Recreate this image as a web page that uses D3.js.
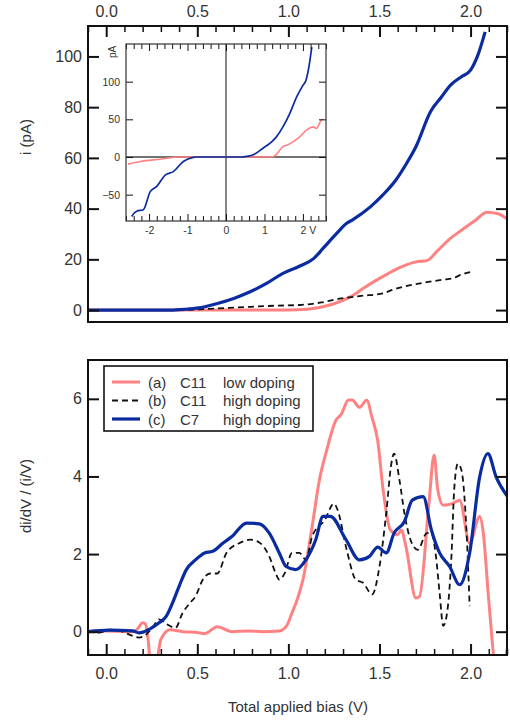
<!DOCTYPE html>
<html>
<head>
<meta charset="utf-8">
<script src="https://cdn.jsdelivr.net/npm/d3@7"></script>
<style>
body { margin: 0; background: #fff; }
svg text { font-family: Arial, "Liberation Sans", sans-serif; fill: #333; }
</style>
</head>
<body>
<svg id="chart" width="510" height="720"></svg>
<script>
// ---- data ----
// top panel: current vs bias
var ivBiasA = [-0.1, 1.0, 1.1, 1.17, 1.25, 1.34, 1.42, 1.5, 1.55, 1.62, 1.7, 1.76, 1.82, 1.88, 1.95, 2.03, 2.09, 2.15, 2.2];
var ivCurA  = [0, 0, 0.3, 1, 2.5, 5.2, 9, 12.5, 14.5, 17, 19, 19.5, 23.5, 27.7, 31.5, 35.6, 38.6, 38, 36];
var ivBiasB = [-0.1, 0.35, 0.51, 0.65, 0.79, 0.92, 1.06, 1.18, 1.29, 1.4, 1.52, 1.57, 1.65, 1.76, 1.85, 1.9, 1.95, 2.0];
var ivCurB  = [0, 0, 0.3, 0.8, 1.3, 1.7, 2, 3, 4.6, 5.6, 6.6, 8, 9.5, 11, 12, 12.5, 14, 15];
var ivBiasC = [-0.1, 0.35, 0.43, 0.51, 0.61, 0.7, 0.79, 0.88, 0.97, 1.06, 1.14, 1.19, 1.265, 1.32, 1.35, 1.45, 1.52, 1.59, 1.65, 1.7, 1.78, 1.84, 1.89, 1.95, 2.0, 2.04, 2.08];
var ivCurC  = [0, 0, 0.3, 0.9, 2.6, 4.6, 7.2, 10.5, 14.5, 17.3, 20.4, 24.3, 30.2, 34.2, 35.5, 40.7, 45.5, 51.3, 58, 64.4, 78.2, 84, 88.7, 92, 94.6, 100.5, 109.7];

// inset: full I-V sweep
var insetBiasA = [-2.55, -2.23, -1.71, -1.2, 1.2, 1.3, 1.48, 1.6, 1.74, 1.9, 2.1, 2.27, 2.35, 2.48, 2.52];
var insetCurA  = [-9.5, -6, -3, 0, 0, 3, 13.7, 16, 20, 26, 36, 40, 38, 49, 50];
var insetBiasC = [-2.45, -2.4, -2.32, -2.15, -1.97, -1.8, -1.58, -1.37, -1.11, -0.85, -0.78, 0.4, 0.55, 0.71, 0.97, 1.14, 1.3, 1.48, 1.66, 1.84, 2.0, 2.08, 2.15, 2.23];
var insetCurC  = [-79, -75, -72, -70, -46, -39, -24, -19.5, -6, -0.5, 0, 0, 1, 3, 12, 18, 26, 40, 58, 80, 95, 102, 118, 146];

// bottom panel: normalised conductance
var ndrBiasA = [-0.1, 0.0, 0.1, 0.15, 0.17, 0.2, 0.215, 0.23, 0.245, 0.27, 0.3, 0.35, 0.42, 0.5, 0.54, 0.61, 0.69, 0.78, 0.86, 0.95, 0.99, 1.02, 1.05, 1.08, 1.13, 1.17, 1.21, 1.26, 1.29, 1.33, 1.35, 1.39, 1.43, 1.46, 1.49, 1.52, 1.56, 1.6, 1.62, 1.645, 1.7, 1.72, 1.77, 1.8, 1.82, 1.85, 1.9, 1.94, 1.995, 2.05, 2.07, 2.1, 2.14, 2.18, 2.2];
var ndrValA  = [0, 0.02, 0, 0, 0.06, 0.23, 0.2, -0.2, -0.9, -0.9, -0.2, 0.05, 0, -0.02, -0.05, 0.13, 0, 0.02, 0, 0.02, 0.15, 0.49, 0.85, 1.34, 2.7, 3.9, 4.67, 5.44, 5.6, 5.97, 5.97, 5.78, 5.96, 5.5, 4.93, 3.65, 2.62, 2.5, 2.62, 2.2, 0.87, 0.91, 3.22, 4.55, 3.65, 3.26, 3.3, 3.39, 2.28, 2.97, 2.54, 0.8, -0.9, -0.9, -0.45];
var ndrBiasB = [-0.1, -0.04, 0.02, 0.09, 0.145, 0.18, 0.22, 0.26, 0.29, 0.33, 0.38, 0.42, 0.46, 0.49, 0.53, 0.57, 0.61, 0.66, 0.73, 0.79, 0.84, 0.895, 0.93, 0.95, 0.98, 1.02, 1.06, 1.096, 1.13, 1.2, 1.25, 1.27, 1.32, 1.37, 1.41, 1.46, 1.5, 1.537, 1.565, 1.58, 1.61, 1.637, 1.67, 1.71, 1.76, 1.785, 1.81, 1.83, 1.85, 1.865, 1.895, 1.91, 1.93, 1.95, 1.98, 1.995];
var ndrValB  = [0, -0.02, 0.05, 0, -0.11, -0.15, -0.07, 0.15, 0.32, 0.2, 0.1, 0.49, 0.74, 0.91, 1.34, 1.5, 1.5, 2.03, 2.28, 2.37, 2.3, 1.94, 1.51, 1.34, 1.51, 2.03, 2.03, 1.85, 2.45, 2.88, 3.3, 3.14, 2.11, 1.34, 1.26, 0.96, 1.68, 3.05, 4.33, 4.59, 3.9, 3.05, 2.37, 2.11, 2.54, 2.54, 1.94, 1.0, 0.15, 0.32, 1.94, 3.65, 4.33, 4.16, 2.37, 0.66];
var ndrBiasC = [-0.1, 0.016, 0.145, 0.18, 0.236, 0.29, 0.33, 0.364, 0.4, 0.44, 0.49, 0.54, 0.584, 0.64, 0.69, 0.77, 0.84, 0.895, 0.95, 0.987, 1.04, 1.096, 1.15, 1.19, 1.23, 1.316, 1.39, 1.445, 1.49, 1.537, 1.58, 1.637, 1.68, 1.74, 1.785, 1.83, 1.885, 1.94, 1.995, 2.05, 2.095, 2.14, 2.2];
var ndrValC  = [0, 0.04, 0.02, -0.03, 0.06, 0.23, 0.4, 0.74, 1.17, 1.6, 1.85, 2.03, 2.07, 2.28, 2.45, 2.8, 2.78, 2.54, 2.03, 1.68, 1.6, 1.85, 2.37, 2.97, 2.97, 2.37, 1.85, 1.94, 2.18, 2.03, 2.54, 2.84, 3.39, 3.48, 2.62, 2.03, 1.68, 1.21, 2.03, 3.99, 4.59, 3.99, 3.5];

// ticks and labels
var biasTicks = [0, 0.5, 1.0, 1.5, 2.0];
var currentTicks = [0, 20, 40, 60, 80, 100];
var ndrTicks = [0, 2, 4, 6];
var insetBiasTicks = [-2, -1, 0, 1, 2];
var insetCurTicks = [-50, 0, 50, 100];
var legendKeys = ["(a)", "(b)", "(c)"];
var legendSamples = ["C11", "C11", "C7"];
var legendDoping = ["low doping", "high doping", "high doping"];

var RED = "#ff8282", BLUE = "#0b2ca0", BLACK = "#111";

var svg = d3.select("#chart");
svg.append("rect").attr("width", 510).attr("height", 720).attr("fill", "#fff");

// scales
var xMain = d3.scaleLinear().domain([-0.1, 2.2]).range([88, 507]);
var yTop = d3.scaleLinear().domain([-4.7, 112]).range([322, 26]);
var yBot = d3.scaleLinear().domain([-0.6, 7]).range([655, 360]);
var xIn = d3.scaleLinear().domain([-2.6, 2.6]).range([126, 326]);
var yIn = d3.scaleLinear().domain([-85, 150]).range([221, 44]);

function zipPts(xs, ys) {
    return xs.map(function(x, i) { return [x, ys[i]]; });
}
function minorsOf(lo, hi, step, majors) {
    return d3.range(Math.round(lo / step), Math.round(hi / step) + 1)
      .map(function(k) { return +(k * step).toFixed(3); })
      .filter(function(v) { return majors.indexOf(v) < 0; });
}
function clipRect(id, x0, y0, x1, y1) {
    svg.append("clipPath").attr("id", id).append("rect")
      .attr("x", x0).attr("y", y0).attr("width", x1 - x0).attr("height", y1 - y0);
}
function drawAxis(axis, tx, ty, fontSize, width) {
    let g = svg.append("g").attr("transform", "translate(" + tx + "," + ty + ")").call(axis);
    g.select(".domain").remove();
    g.selectAll("line").attr("stroke", "#111").attr("stroke-width", width);
    g.selectAll("text").attr("font-size", fontSize).attr("fill", "#383838");
    return g;
}
function drawLine(g, pts, xs, ys, color, width, dash) {
    let line = d3.line().x(function(d) { return xs(d[0]); }).y(function(d) { return ys(d[1]); })
      .curve(d3.curveMonotoneX);
    g.append("path").datum(pts)
      .attr("d", line)
      .attr("fill", "none")
      .attr("stroke", color)
      .attr("stroke-width", width)
      .attr("stroke-dasharray", dash || null)
      .attr("stroke-linejoin", "round");
}

// ---- top panel ----
clipRect("clipTop", 88, 26, 507, 322);
var topG = svg.append("g").attr("clip-path", "url(#clipTop)");
drawLine(topG, zipPts(ivBiasA, ivCurA), xMain, yTop, RED, 3);
drawLine(topG, zipPts(ivBiasB, ivCurB), xMain, yTop, BLACK, 1.8, "6,4");
drawLine(topG, zipPts(ivBiasC, ivCurC), xMain, yTop, BLUE, 3.2);

drawAxis(d3.axisTop(xMain).tickValues(biasTicks).tickSize(-11).tickPadding(9).tickFormat(d3.format(".1f")), 0, 26, 16, 2);
drawAxis(d3.axisTop(xMain).tickValues(minorsOf(-0.1, 2.2, 0.1, biasTicks)).tickSize(-6).tickFormat(""), 0, 26, 16, 1.5);
drawAxis(d3.axisLeft(yTop).tickValues(currentTicks).tickSize(-11).tickPadding(6), 88, 0, 16, 2);
drawAxis(d3.axisRight(yTop).tickValues(currentTicks).tickSize(-11).tickFormat(""), 507, 0, 16, 2);
svg.append("rect").attr("x", 88).attr("y", 26).attr("width", 419).attr("height", 296)
  .attr("fill", "none").attr("stroke", "#111").attr("stroke-width", 2);

svg.append("text").attr("transform", "translate(31,137) rotate(-90)")
  .attr("text-anchor", "middle").attr("font-size", 15).text("i (pA)");

// inset
svg.append("rect").attr("x", 126).attr("y", 44).attr("width", 200).attr("height", 177).attr("fill", "#fff");
clipRect("clipIn", 126, 44, 326, 221);
var inG = svg.append("g").attr("clip-path", "url(#clipIn)");
inG.append("line").attr("x1", xIn(-2.6)).attr("x2", xIn(2.6)).attr("y1", yIn(0)).attr("y2", yIn(0))
  .attr("stroke", "#444").attr("stroke-width", 1.3);
inG.append("line").attr("x1", xIn(0)).attr("x2", xIn(0)).attr("y1", yIn(-85)).attr("y2", yIn(150))
  .attr("stroke", "#444").attr("stroke-width", 1.3);
drawLine(inG, zipPts(insetBiasA, insetCurA), xIn, yIn, RED, 1.6);
drawLine(inG, zipPts(insetBiasC, insetCurC), xIn, yIn, BLUE, 1.7);

var inMinor = minorsOf(-2.6, 2.6, 0.2, [-2, -1, 0, 1, 2]);
var bAx = drawAxis(d3.axisBottom(xIn).tickValues(insetBiasTicks).tickSize(-7).tickPadding(6)
  .tickFormat(function(d) { return d == 2 ? "2 V" : d; }), 0, 221, 10.5, 1);
bAx.selectAll("text").attr("fill", "#554455").filter(function(d) { return d == 2; })
  .attr("text-anchor", "start").attr("dx", -3);
drawAxis(d3.axisBottom(xIn).tickValues(inMinor).tickSize(-5).tickFormat(""), 0, 221, 10, 1);
drawAxis(d3.axisTop(xIn).tickValues(insetBiasTicks).tickSize(-7).tickFormat(""), 0, 44, 10, 1);
drawAxis(d3.axisTop(xIn).tickValues(inMinor).tickSize(-5).tickFormat(""), 0, 44, 10, 1);
var lAx = drawAxis(d3.axisLeft(yIn).tickValues(insetCurTicks).tickSize(-7).tickPadding(6), 126, 0, 10.5, 1);
lAx.selectAll("text").attr("fill", "#554455");
drawAxis(d3.axisRight(yIn).tickValues(insetCurTicks).tickSize(-7).tickFormat(""), 326, 0, 10, 1);
svg.append("rect").attr("x", 126).attr("y", 44).attr("width", 200).attr("height", 177)
  .attr("fill", "none").attr("stroke", "#333").attr("stroke-width", 1.2);
svg.append("text").attr("transform", "translate(116,52) rotate(-90)")
  .attr("text-anchor", "middle").attr("font-size", 10).attr("fill", "#554455").text("pA");

// ---- bottom panel ----
clipRect("clipBot", 88, 360, 507, 655);
var botG = svg.append("g").attr("clip-path", "url(#clipBot)");
drawLine(botG, zipPts(ndrBiasA, ndrValA), xMain, yBot, RED, 3);
drawLine(botG, zipPts(ndrBiasB, ndrValB), xMain, yBot, BLACK, 1.8, "6,4");
drawLine(botG, zipPts(ndrBiasC, ndrValC), xMain, yBot, BLUE, 3.2);

drawAxis(d3.axisBottom(xMain).tickValues(biasTicks).tickSize(-11).tickPadding(13).tickFormat(d3.format(".1f")), 0, 655, 16, 2);
drawAxis(d3.axisBottom(xMain).tickValues(minorsOf(-0.1, 2.2, 0.1, biasTicks)).tickSize(-6).tickFormat(""), 0, 655, 16, 1.5);
drawAxis(d3.axisLeft(yBot).tickValues(ndrTicks).tickSize(-11).tickPadding(6), 88, 0, 16, 2);
drawAxis(d3.axisRight(yBot).tickValues(ndrTicks).tickSize(-11).tickFormat(""), 507, 0, 16, 2);
svg.append("rect").attr("x", 88).attr("y", 360).attr("width", 419).attr("height", 295)
  .attr("fill", "none").attr("stroke", "#111").attr("stroke-width", 2);

svg.append("text").attr("transform", "translate(31,496) rotate(-90)")
  .attr("text-anchor", "middle").attr("font-size", 15).text("di/dV / (i/V)");
svg.append("text").attr("x", 298).attr("y", 712)
  .attr("text-anchor", "middle").attr("font-size", 15).text("Total applied bias (V)");

// legend
var legend = svg.append("g");
legend.append("rect").attr("x", 104).attr("y", 366).attr("width", 209).attr("height", 65)
  .attr("fill", "#fff").attr("stroke", "#111").attr("stroke-width", 1.6);
var legColors = [RED, BLACK, BLUE], legWidths = [3, 1.8, 3.2], legDash = [null, "6,4", null];
for (i = 0; i < legendKeys.length; i++) {
    let ly = 382 + i * 18.5;
    legend.append("line").attr("x1", 112).attr("x2", 140).attr("y1", ly).attr("y2", ly)
      .attr("stroke", legColors[i]).attr("stroke-width", legWidths[i])
      .attr("stroke-dasharray", legDash[i]);
    legend.append("text").attr("x", 148).attr("y", ly + 5.5).attr("font-size", 15).text(legendKeys[i]);
    legend.append("text").attr("x", 180).attr("y", ly + 5.5).attr("font-size", 15).text(legendSamples[i]);
    legend.append("text").attr("x", 223).attr("y", ly + 5.5).attr("font-size", 15).text(legendDoping[i]);
}
</script>
</body>
</html>
